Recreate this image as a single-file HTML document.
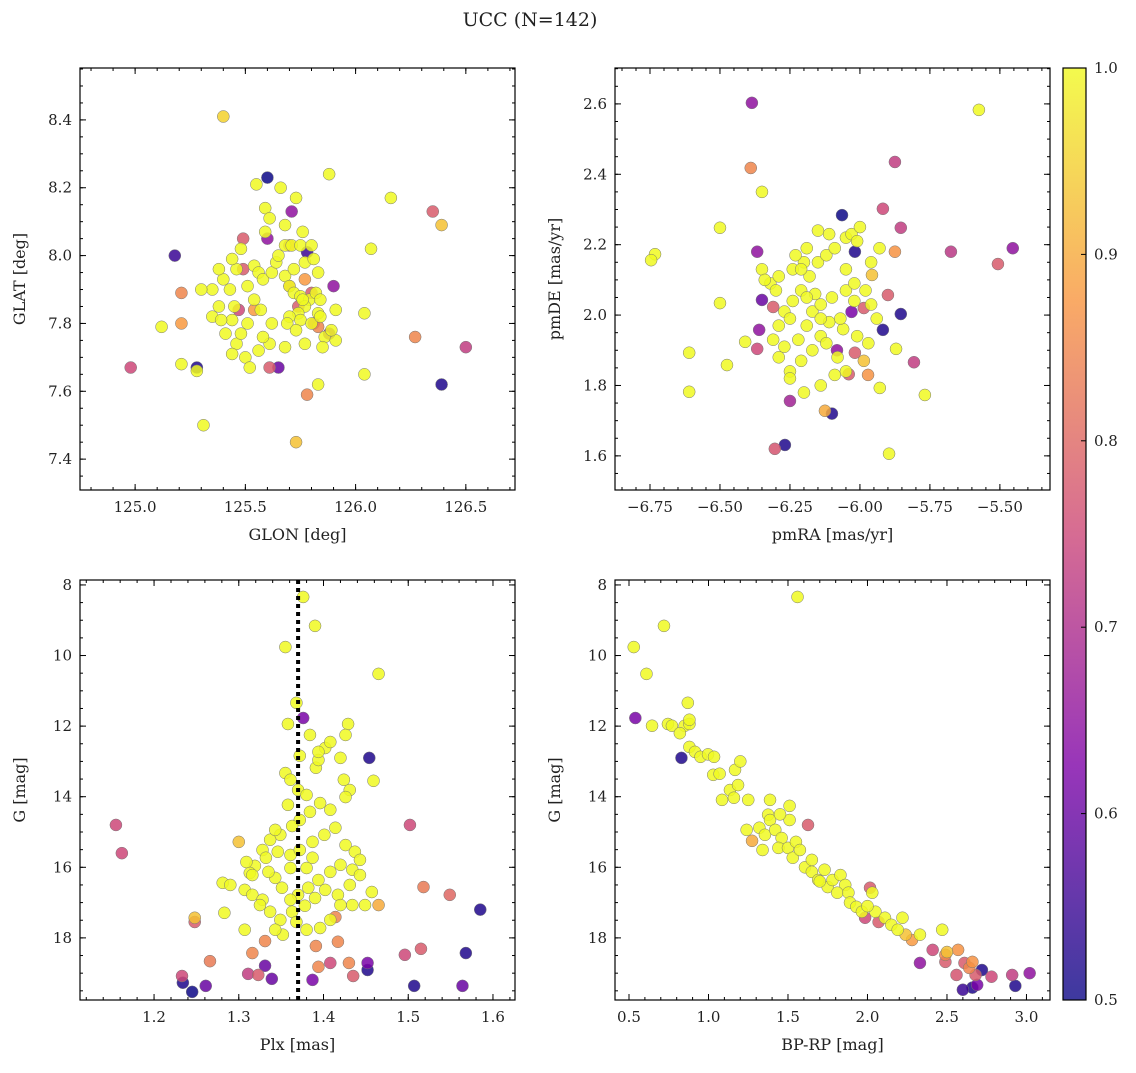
<!DOCTYPE html>
<html><head><meta charset="utf-8"><style>
body{margin:0;background:#fff;}
svg text{font-family:"DejaVu Serif","Liberation Serif",serif;fill:#222;}
</style></head><body>
<svg id="fig" width="1136" height="1068" viewBox="0 0 1136 1068">
<defs>
<linearGradient id="cbg" x1="0" y1="1" x2="0" y2="0">
<stop offset="0" stop-color="#0d0887"/><stop offset="0.25" stop-color="#7e03a8"/><stop offset="0.5" stop-color="#cc4778"/><stop offset="0.75" stop-color="#f89540"/><stop offset="1" stop-color="#f0f921"/>
</linearGradient>
</defs>
<text x="530" y="26" font-size="19" text-anchor="middle">UCC (N=142)</text>
<rect x="1063" y="68" width="23" height="932" fill="url(#cbg)" opacity="0.8"/>
<rect x="1063" y="68" width="23" height="932" fill="none" stroke="#000" stroke-width="1.2"/>
</svg>
<script>
// Panel 1: GLON, GLAT, prob
const p1 = [[125.40,8.41,0.95],[125.60,8.23,0.5],[125.88,8.24,0.98],[125.18,8.00,0.55],[125.71,8.13,0.65],[126.35,8.13,0.78],[126.39,8.09,0.93],[126.16,8.17,0.98],[126.07,8.02,0.98],[125.49,8.05,0.78],[125.60,8.05,0.65],[125.78,8.01,0.55],[125.21,7.89,0.85],[125.90,7.91,0.65],[125.21,7.80,0.88],[125.12,7.79,0.98],[124.98,7.67,0.75],[125.21,7.68,0.98],[125.28,7.67,0.52],[125.28,7.66,0.98],[125.31,7.50,0.98],[125.65,7.67,0.6],[125.61,7.67,0.78],[125.78,7.59,0.85],[125.83,7.62,0.98],[125.73,7.45,0.93],[126.04,7.65,0.98],[126.04,7.83,0.98],[126.27,7.76,0.85],[126.50,7.73,0.73],[126.39,7.62,0.52],
[125.48,8.02,0.98],[125.55,8.21,0.98],[125.59,8.14,0.98],[125.59,8.07,0.98],[125.61,8.11,0.98],[125.66,8.20,0.98],[125.73,8.17,0.98],[125.54,7.97,0.98],[125.56,7.95,0.98],[125.58,7.93,0.98],[125.62,7.95,0.98],[125.64,7.98,0.98],[125.65,8.00,0.98],[125.68,8.03,0.98],[125.71,8.03,0.98],[125.75,8.03,0.98],[125.76,8.07,0.98],[125.80,8.03,0.98],[125.77,7.98,0.98],[125.81,7.99,0.98],[125.83,7.95,0.98],[125.68,7.94,0.98],[125.72,7.96,0.98],[125.70,7.91,0.98],[125.72,7.89,0.98],[125.75,7.88,0.98],[125.79,7.87,0.98],[125.82,7.89,0.98],[125.84,7.87,0.98],[125.83,7.83,0.98],[125.77,7.85,0.98],[125.74,7.83,0.98],[125.70,7.82,0.98],[125.69,7.80,0.98],[125.75,7.81,0.98],[125.80,7.80,0.98],[125.84,7.82,0.98],[125.86,7.76,0.98],[125.91,7.75,0.98],[125.89,7.78,0.98],[125.85,7.73,0.98],[125.77,7.74,0.98],[125.73,7.78,0.98],[125.68,7.73,0.98],[125.61,7.74,0.98],[125.56,7.72,0.98],[125.50,7.70,0.98],[125.52,7.67,0.98],[125.46,7.74,0.98],[125.44,7.71,0.98],[125.44,7.81,0.98],[125.45,7.85,0.98],[125.43,7.90,0.98],[125.46,7.96,0.98],[125.40,7.93,0.98],[125.38,7.96,0.98],[125.44,7.99,0.98],[125.51,7.91,0.98],[125.54,7.87,0.98],[125.57,7.84,0.98],[125.62,7.80,0.98],[125.58,7.76,0.98],[125.51,7.80,0.98],[125.48,7.77,0.98],[125.35,7.90,0.98],[125.38,7.85,0.98],[125.35,7.82,0.98],[125.39,7.81,0.98],[125.41,7.77,0.98],[125.30,7.90,0.98],[125.68,8.09,0.98],[125.76,7.87,0.98],[125.91,7.84,0.98],
[125.49,7.96,0.78],[125.47,7.84,0.75],[125.70,7.91,0.8],[125.80,7.89,0.78],[125.81,7.80,0.75],[125.83,7.79,0.85],[125.70,8.03,0.86],[125.74,7.85,0.78],[125.77,7.93,0.88],[125.88,7.77,0.65],[125.54,7.84,0.88]];
// Panel 2: pmRA, pmDE, prob
const p2 = [[-6.386,2.603,0.65],[-5.575,2.583,0.98],[-6.39,2.418,0.85],[-5.875,2.435,0.73],[-6.35,2.35,0.98],[-5.918,2.302,0.75],[-5.854,2.248,0.73],[-6.5,2.248,0.98],[-6.064,2.284,0.5],[-6.732,2.173,0.98],[-6.746,2.156,0.98],[-5.675,2.18,0.72],[-5.454,2.19,0.65],[-5.507,2.145,0.78],[-6.018,2.18,0.52],[-5.957,2.114,0.93],[-5.875,2.18,0.87],[-5.96,2.15,0.98],[-5.9,2.057,0.78],[-5.854,2.003,0.52],[-5.918,1.958,0.52],[-5.986,2.02,0.78],[-6.03,2.009,0.62],[-6.367,2.18,0.65],[-6.35,2.043,0.6],[-6.36,1.958,0.65],[-6.367,1.904,0.75],[-6.31,2.023,0.78],[-6.5,2.034,0.98],[-6.41,1.924,0.98],[-6.475,1.858,0.98],[-6.61,1.893,0.98],[-6.61,1.782,0.98],[-6.25,1.756,0.68],[-6.268,1.631,0.52],[-6.304,1.62,0.77],[-6.125,1.728,0.9],[-6.1,1.72,0.52],[-5.896,1.606,0.98],[-5.768,1.773,0.98],[-5.807,1.866,0.73],[-5.986,1.87,0.93],[-6.04,1.832,0.78],[-6.082,1.9,0.65],[-6.018,1.893,0.78],[-5.971,1.83,0.87],[-5.929,1.793,0.98],[-5.871,1.904,0.98],
[-6.35,2.13,0.98],[-6.32,2.09,0.98],[-6.29,2.11,0.98],[-6.24,2.13,0.98],[-6.20,2.15,0.98],[-6.18,2.11,0.98],[-6.15,2.15,0.98],[-6.12,2.17,0.98],[-6.09,2.19,0.98],[-6.05,2.22,0.98],[-6.03,2.23,0.98],[-6.00,2.25,0.98],[-6.01,2.21,0.98],[-6.11,2.23,0.98],[-6.15,2.24,0.98],[-6.19,2.19,0.98],[-6.21,2.07,0.98],[-6.24,2.04,0.98],[-6.27,2.01,0.98],[-6.25,1.99,0.98],[-6.29,1.97,0.98],[-6.31,1.93,0.98],[-6.27,1.91,0.98],[-6.29,1.88,0.98],[-6.22,1.93,0.98],[-6.19,1.97,0.98],[-6.17,2.01,0.98],[-6.14,2.03,0.98],[-6.10,2.05,0.98],[-6.05,2.07,0.98],[-6.02,2.09,0.98],[-5.98,2.07,0.98],[-5.96,2.03,0.98],[-5.94,1.99,0.98],[-5.97,1.92,0.98],[-6.01,1.94,0.98],[-6.06,1.96,0.98],[-6.11,1.98,0.98],[-6.14,1.94,0.98],[-6.17,1.90,0.98],[-6.21,1.87,0.98],[-6.25,1.84,0.98],[-6.25,1.82,0.98],[-6.20,1.78,0.98],[-6.14,1.80,0.98],[-6.09,1.83,0.98],[-6.05,1.84,0.98],[-6.08,1.88,0.98],[-6.12,1.92,0.98],[-6.16,2.06,0.98],[-6.19,2.05,0.98],[-6.21,2.13,0.98],[-6.05,2.13,0.98],[-6.02,2.04,0.98],[-6.07,1.99,0.98],[-6.30,2.07,0.98],[-6.34,2.10,0.98],[-6.23,2.17,0.98],[-6.14,1.99,0.98],[-5.93,2.19,0.98]];
// Panel 3: Plx, G, prob
const p3 = [[1.376,8.34,0.98],[1.39,9.16,0.98],[1.355,9.76,0.98],[1.465,10.52,0.98],[1.368,11.34,0.98],[1.376,11.77,0.62],[1.358,11.94,0.98],[1.429,11.94,0.98],[1.454,12.9,0.52],[1.459,13.55,0.98],[1.155,14.8,0.75],[1.162,15.6,0.75],[1.502,14.8,0.75],[1.3,15.28,0.93],[1.518,16.56,0.83],[1.549,16.78,0.8],[1.465,17.07,0.9],[1.585,17.2,0.52],[1.248,17.43,0.93],[1.248,17.55,0.78],[1.266,18.66,0.83],[1.233,19.08,0.75],[1.234,19.27,0.52],[1.245,19.53,0.5],[1.261,19.36,0.6],[1.311,19.02,0.73],[1.316,18.43,0.85],[1.323,19.05,0.78],[1.331,18.79,0.6],[1.339,19.16,0.6],[1.331,18.09,0.85],[1.387,19.19,0.62],[1.394,18.82,0.85],[1.408,18.71,0.75],[1.43,18.71,0.85],[1.435,19.08,0.78],[1.452,18.71,0.62],[1.452,18.91,0.52],[1.496,18.48,0.75],[1.515,18.31,0.78],[1.507,19.36,0.52],[1.568,18.43,0.52],[1.564,19.36,0.6],[1.414,17.41,0.85],[1.417,18.11,0.85],[1.391,18.23,0.85],
[1.355,13.33,0.98],[1.361,13.52,0.98],[1.370,13.81,0.98],[1.380,13.95,0.98],[1.391,13.18,0.98],[1.394,12.96,0.98],[1.402,12.62,0.98],[1.408,12.45,0.98],[1.394,12.73,0.98],[1.420,12.90,0.98],[1.424,13.52,0.98],[1.431,13.81,0.98],[1.426,14.01,0.98],[1.408,14.37,0.98],[1.396,14.18,0.98],[1.384,14.43,0.98],[1.372,14.66,0.98],[1.363,14.83,0.98],[1.349,15.08,0.98],[1.337,15.22,0.98],[1.328,15.51,0.98],[1.332,15.73,0.98],[1.346,15.56,0.98],[1.361,15.65,0.98],[1.372,15.51,0.98],[1.387,15.28,0.98],[1.401,15.08,0.98],[1.414,14.88,0.98],[1.426,15.37,0.98],[1.437,15.56,0.98],[1.443,15.79,0.98],[1.434,16.07,0.98],[1.420,15.93,0.98],[1.408,16.13,0.98],[1.394,16.36,0.98],[1.382,16.58,0.98],[1.370,16.78,0.98],[1.361,16.92,0.98],[1.351,16.58,0.98],[1.343,16.30,0.98],[1.335,16.13,0.98],[1.319,15.96,0.98],[1.313,16.16,0.98],[1.307,16.64,0.98],[1.316,16.78,0.98],[1.328,16.92,0.98],[1.337,17.26,0.98],[1.349,17.49,0.98],[1.363,17.26,0.98],[1.378,17.09,0.98],[1.390,16.87,0.98],[1.402,16.64,0.98],[1.417,16.78,0.98],[1.431,16.50,0.98],[1.443,16.22,0.98],[1.457,16.70,0.98],[1.449,17.07,0.98],[1.434,17.07,0.98],[1.420,17.07,0.98],[1.408,17.49,0.98],[1.396,17.72,0.98],[1.380,17.77,0.98],[1.368,17.55,0.98],[1.352,17.91,0.98],[1.343,17.77,0.98],[1.325,17.07,0.98],[1.307,17.77,0.98],[1.283,17.29,0.98],[1.281,16.44,0.98],[1.380,16.02,0.98],[1.361,16.02,0.98],[1.387,15.73,0.98],[1.358,14.23,0.98],[1.343,14.94,0.98],[1.290,16.50,0.98],[1.309,15.85,0.98],[1.316,16.22,0.98],[1.372,12.84,0.98],[1.426,12.25,0.98],[1.384,12.25,0.98]];
// Panel 4: BP-RP, G, prob
const p4 = [[1.56,8.34,0.98],[0.53,9.76,0.98],[0.72,9.16,0.98],[0.61,10.52,0.98],[0.54,11.77,0.62],[0.645,11.99,0.98],[0.745,11.94,0.98],[0.77,11.99,0.98],[0.85,11.99,0.98],[0.88,11.94,0.98],[0.82,12.2,0.98],[0.83,12.9,0.52],[0.87,11.34,0.98],[0.88,11.82,0.98],[0.88,12.59,0.98],[0.915,12.73,0.98],[0.95,12.87,0.98],[0.997,12.8,0.98],[1.035,12.87,0.98],[1.03,13.38,0.98],[1.07,13.35,0.98],[1.085,14.09,0.98],[1.135,13.81,0.98],[1.16,14.03,0.98],[1.167,13.24,0.98],[1.186,13.67,0.98],[1.25,14.09,0.98],[1.24,14.94,0.98],[1.274,15.25,0.9],[1.32,14.88,0.98],[1.355,15.08,0.98],[1.34,15.51,0.98],[1.375,14.51,0.98],[1.387,14.09,0.98],[1.387,14.66,0.98],[1.42,14.94,0.98],[1.46,15.17,0.98],[1.44,15.45,0.98],[1.51,14.66,0.98],[1.51,14.26,0.98],[1.5,15.45,0.98],[1.53,15.73,0.98],[1.55,15.28,0.98],[1.575,15.51,0.98],[1.626,14.8,0.78],[1.607,16.0,0.98],[1.65,15.79,0.98],[1.65,16.13,0.98],[1.69,16.36,0.98],[1.73,16.07,0.98],[1.75,16.56,0.98],[1.78,16.36,0.98],[1.83,16.22,0.98],[1.86,16.5,0.98],[1.81,16.72,0.98],[1.88,16.72,0.98],[1.89,17.0,0.98],[1.93,17.12,0.98],[1.965,17.26,0.98],[2.016,16.58,0.78],[2.03,16.72,0.98],[1.985,17.43,0.75],[2.05,17.26,0.98],[2.07,17.55,0.78],[2.11,17.43,0.98],[2.15,17.63,0.98],[2.22,17.43,0.98],[2.24,17.91,0.93],[2.28,18.06,0.88],[2.19,17.77,0.98],[2.33,17.91,0.98],[2.41,18.34,0.75],[2.47,17.77,0.98],[2.33,18.71,0.65],[2.49,18.48,0.85],[2.49,18.68,0.78],[2.57,18.34,0.87],[2.56,19.05,0.77],[2.6,19.47,0.55],[2.61,18.71,0.78],[2.64,18.85,0.85],[2.66,18.68,0.87],[2.68,19.05,0.78],[2.66,19.41,0.52],[2.69,19.33,0.62],[2.72,18.91,0.52],[2.78,19.1,0.75],[2.91,19.05,0.73],[3.02,19.0,0.65],[2.93,19.36,0.52],[1.2,13.0,0.98],[1.45,14.5,0.98],[1.7,16.4,0.98],[2.0,17.1,0.98],[2.5,18.4,0.93]];
const cbTicks = [0.5,0.6,0.7,0.8,0.9,1.0];
const plxMean = 1.37;

const NS='http://www.w3.org/2000/svg';
const svg=document.getElementById('fig');
function mk(tag,attrs,parent){const e=document.createElementNS(NS,tag);for(const k in attrs)e.setAttribute(k,attrs[k]);(parent||svg).appendChild(e);return e;}
const stops=[[0,[13,8,135]],[0.25,[126,3,168]],[0.5,[204,71,120]],[0.75,[248,149,64]],[1,[240,249,33]]];
function plasma(v){let t=Math.max(0,Math.min(1,(v-0.5)/0.5));if(v>=0.97)t=1;for(let i=0;i<stops.length-1;i++){const a=stops[i],b=stops[i+1];if(t<=b[0]){const f=(t-a[0])/(b[0]-a[0]);const c=a[1].map((x,j)=>Math.round(x+(b[1][j]-x)*f));return 'rgb('+c.join(',')+')';}}return 'rgb(240,249,33)';}

function panel(o){
  const g=mk('g',{});
  
  
  const X=v=>o.L+(v-o.x0)/(o.x1-o.x0)*(o.R-o.L);
  const Y=o.inv?(v=>o.T+(v-o.y0)/(o.y1-o.y0)*(o.B-o.T)):(v=>o.B-(v-o.y0)/(o.y1-o.y0)*(o.B-o.T));
  const ticks=(a,b,s)=>{const r=[];for(let v=Math.ceil(a/s-1e-6)*s;v<=b+1e-9;v+=s)r.push(+v.toFixed(6));return r;};
  ticks(o.x0,o.x1,o.xmin).forEach(v=>{const x=X(v);mk('line',{x1:x,x2:x,y1:o.B,y2:o.B-3,stroke:'#000'},g);mk('line',{x1:x,x2:x,y1:o.T,y2:o.T+3,stroke:'#000'},g);});
  ticks(o.y0,o.y1,o.ymin).forEach(v=>{const y=Y(v);mk('line',{x1:o.L,x2:o.L+3,y1:y,y2:y,stroke:'#000'},g);mk('line',{x1:o.R,x2:o.R-3,y1:y,y2:y,stroke:'#000'},g);});
  ticks(o.x0,o.x1,o.xmaj).forEach(v=>{const x=X(v);mk('line',{x1:x,x2:x,y1:o.B,y2:o.B-6,stroke:'#000'},g);mk('line',{x1:x,x2:x,y1:o.T,y2:o.T+6,stroke:'#000'},g);
    const t=mk('text',{x:x,y:o.B+22,'font-size':15,'text-anchor':'middle'},g);t.textContent=v.toFixed(o.xd).replace('-','\u2212');
    
    });
  ticks(o.y0,o.y1,o.ymaj).forEach(v=>{const y=Y(v);mk('line',{x1:o.L,x2:o.L+6,y1:y,y2:y,stroke:'#000'},g);mk('line',{x1:o.R,x2:o.R-6,y1:y,y2:y,stroke:'#000'},g);
    const t=mk('text',{x:o.L-8,y:y+5,'font-size':15,'text-anchor':'end'},g);t.textContent=v.toFixed(o.yd);
    
    });
  const pts=[...o.data].sort((a,b)=>a[2]-b[2]);
  pts.forEach(p=>{const c=mk('circle',{cx:X(p[0]),cy:Y(p[1]),r:6,fill:plasma(p[2]),'fill-opacity':0.85,stroke:'#777','stroke-width':0.5},g);
    
    });
  if(o.vline!==undefined){const x=X(o.vline);const l=mk('line',{x1:x,x2:x,y1:o.T,y2:o.B,stroke:'#000','stroke-width':4,'stroke-dasharray':'4,4'},g);
    
    }
  mk('rect',{x:o.L,y:o.T,width:o.R-o.L,height:o.B-o.T,fill:'none',stroke:'#000','stroke-width':1.2},g);
  const xl=mk('text',{x:(o.L+o.R)/2,y:o.B+50,'font-size':16,'text-anchor':'middle'},g);xl.textContent=o.xl;
  
  
  const yx=o.L-55,yy=(o.T+o.B)/2;
  const yl=mk('text',{x:yx,y:yy,'font-size':16,'text-anchor':'middle',transform:`rotate(-90 ${yx} ${yy})`},g);yl.textContent=o.yl;
  
  
}
panel({name:'glon-glat-panel',data:p1,L:80,R:515,T:68,B:490,x0:124.75,x1:126.723,y0:7.309,y1:8.553,xmaj:0.5,xmin:0.1,ymaj:0.2,ymin:0.05,xd:1,yd:1,xl:'GLON [deg]',yl:'GLAT [deg]'});
panel({name:'pm-panel',data:p2,L:615,R:1050,T:68,B:490,x0:-6.875,x1:-5.321,y0:1.503,y1:2.702,xmaj:0.25,xmin:0.05,ymaj:0.2,ymin:0.05,xd:2,yd:1,xl:'pmRA [mas/yr]',yl:'pmDE [mas/yr]'});
panel({name:'plx-g-panel',data:p3,L:80,R:515,T:580,B:1000,x0:1.1126,x1:1.626,y0:7.86,y1:19.76,inv:true,xmaj:0.1,xmin:0.02,ymaj:2,ymin:0.5,xd:1,yd:0,xl:'Plx [mas]',yl:'G [mag]',vline:plxMean});
panel({name:'cmd-panel',data:p4,L:615,R:1050,T:580,B:1000,x0:0.412,x1:3.148,y0:7.86,y1:19.76,inv:true,xmaj:0.5,xmin:0.1,ymaj:2,ymin:0.5,xd:1,yd:0,xl:'BP-RP [mag]',yl:'G [mag]'});
cbTicks.forEach(v=>{const y=1000-(v-0.5)/0.5*932;
  mk('line',{x1:1086,x2:1081,y1:y,y2:y,stroke:'#000'});
  const t=mk('text',{x:1094,y:y+5,'font-size':15});t.textContent=v.toFixed(1);
  
  });
</script>
</body></html>
